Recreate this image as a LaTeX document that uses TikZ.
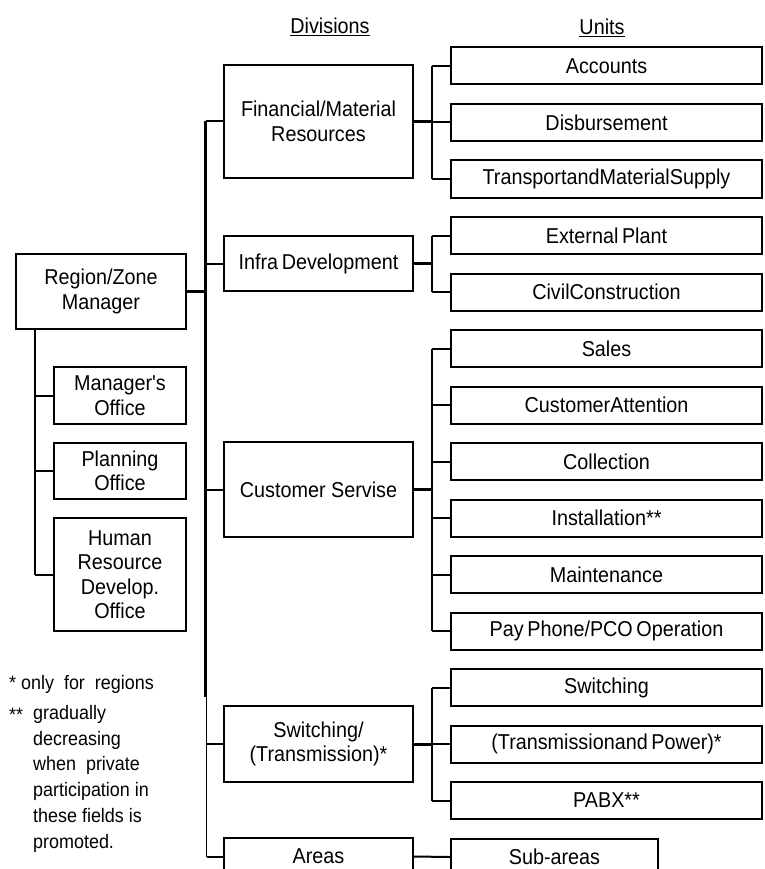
\documentclass[tikz,border=0pt]{standalone}
\usepackage{fontspec}
\newfontfamily\chartfont{Liberation Sans}[FakeStretch=0.92]
\newcommand\boxfont{\chartfont\fontsize{21.5}{24.5}\selectfont}
\newcommand\notefont{\chartfont\fontsize{19.5}{25.8}\selectfont}
\begin{document}
\begin{tikzpicture}[x=1pt,y=-1pt,
  box/.style={draw, line width=2pt, inner sep=0pt, align=center, font=\boxfont},
  divbox/.style={box, minimum width=189pt},
  unitbox/.style={box, minimum width=311pt, minimum height=37pt},
  officebox/.style={box, minimum width=132pt},
  conn/.style={line width=2pt},
  boldconn/.style={line width=3pt},
  thinconn/.style={line width=1.2pt},
  header/.style={inner sep=0pt, font=\boxfont},
  note/.style={inner sep=0pt, font=\notefont, align=left}]
\clip (0,0) rectangle (764,869);

% headers
\node[header] (hdiv) at (330,27) {\underline{Divisions}};
\node[header] (hunit) at (602,28) {\underline{Units}};

% head of the region and its staff offices
\node[box, minimum width=170pt, minimum height=75pt] (region) at (101,291.5) {Region/Zone\\Manager};
\node[officebox, minimum height=57pt] (mgr) at (120,395.5) {Manager's\\Office};
\node[officebox, minimum height=56pt] (plan) at (120,471) {Planning\\Office};
\node[officebox, minimum height=113pt] (hr) at (120,574.5) {Human\\Resource\\Develop.\\Office};

% divisions
\node[divbox, minimum height=113pt] (fin) at (318.5,121.5) {Financial/Material\\Resources};
\node[divbox, minimum height=55pt] (infra) at (318.5,263.5) {Infra\,Development};
\node[divbox, minimum height=95pt] (cust) at (318.5,489.5) {Customer Servise};
\node[divbox, minimum height=76pt] (sw) at (318.5,744) {Switching/\\(Transmission)*};
\node[divbox, minimum height=37pt] (areas) at (318.5,856.5) {Areas};

% units
\node[unitbox] (acc) at (606.5,66) {Accounts};
\node[unitbox] (dis) at (606.5,122.5) {Disbursement};
\node[unitbox] (tra) at (606.5,179) {TransportandMaterialSupply};
\node[unitbox] (ext) at (606.5,235.5) {External\,Plant};
\node[unitbox] (civ) at (606.5,292) {CivilConstruction};
\node[unitbox] (sal) at (606.5,348.5) {Sales};
\node[unitbox] (att) at (606.5,405) {CustomerAttention};
\node[unitbox] (col) at (606.5,461.5) {Collection};
\node[unitbox] (ins) at (606.5,518) {Installation**};
\node[unitbox] (mai) at (606.5,574.5) {Maintenance};
\node[unitbox] (pay) at (606.5,631) {Pay\,Phone/PCO\,Operation};
\node[unitbox] (swu) at (606.5,687.5) {Switching};
\node[unitbox] (trp) at (606.5,744) {(Transmissionand\,Power)*};
\node[unitbox] (pab) at (606.5,800.5) {PABX**};
\node[box, minimum width=207pt, minimum height=37pt] (sub) at (554.5,857) {Sub-areas};

% spines
\coordinate (sp) at (205.5,0);
\coordinate (spthin) at (206.5,0);
\coordinate (us) at (432,0);
\coordinate (ls) at (35,0);
\coordinate (spbreak) at (205.5,697);

% main spine to the divisions
\draw[boldconn] (region.east) -- (region.east -| sp);
\draw[boldconn] (fin.west -| sp) -- (spbreak);
\draw[thinconn] (spbreak -| spthin) -- (areas.west -| spthin);
\foreach \d in {fin,infra,cust,sw}
  \draw[conn] (\d.west -| sp) -- (\d.west);
\draw[conn] (areas.west -| spthin) -- (areas.west);

% staff offices
\draw[conn] (region.south -| ls) -- (hr.west -| ls);
\foreach \o in {mgr,plan,hr}
  \draw[conn] (\o.west -| ls) -- (\o.west);

% divisions to their units
\draw[boldconn] (fin.east) -- (fin.east -| us);
\draw[conn] (acc.west -| us) -- (tra.west -| us);
\foreach \u in {acc,dis,tra}
  \draw[conn] (\u.west -| us) -- (\u.west);

\draw[boldconn] (infra.east) -- (infra.east -| us);
\draw[conn] (ext.west -| us) -- (civ.west -| us);
\foreach \u in {ext,civ}
  \draw[conn] (\u.west -| us) -- (\u.west);

\draw[boldconn] (cust.east) -- (cust.east -| us);
\draw[conn] (sal.west -| us) -- (pay.west -| us);
\foreach \u in {sal,att,col,ins,mai,pay}
  \draw[conn] (\u.west -| us) -- (\u.west);

\draw[boldconn] (sw.east) -- (sw.east -| us);
\draw[conn] (swu.west -| us) -- (pab.west -| us);
\foreach \u in {swu,trp,pab}
  \draw[conn] (\u.west -| us) -- (\u.west);

\draw[conn] (areas.east) -- (sub.west);

% footnotes
\node[note, anchor=base west] (n1) at (9,689) {*\ only\ \ for\ \ regions};
\node[note, anchor=base west] (n2a) at (9,721) {**};
\node[note, anchor=north west] (n2) at (33,705) {gradually\\decreasing\\when\ \ private\\participation in\\these fields is\\promoted.};
\end{tikzpicture}
\end{document}
